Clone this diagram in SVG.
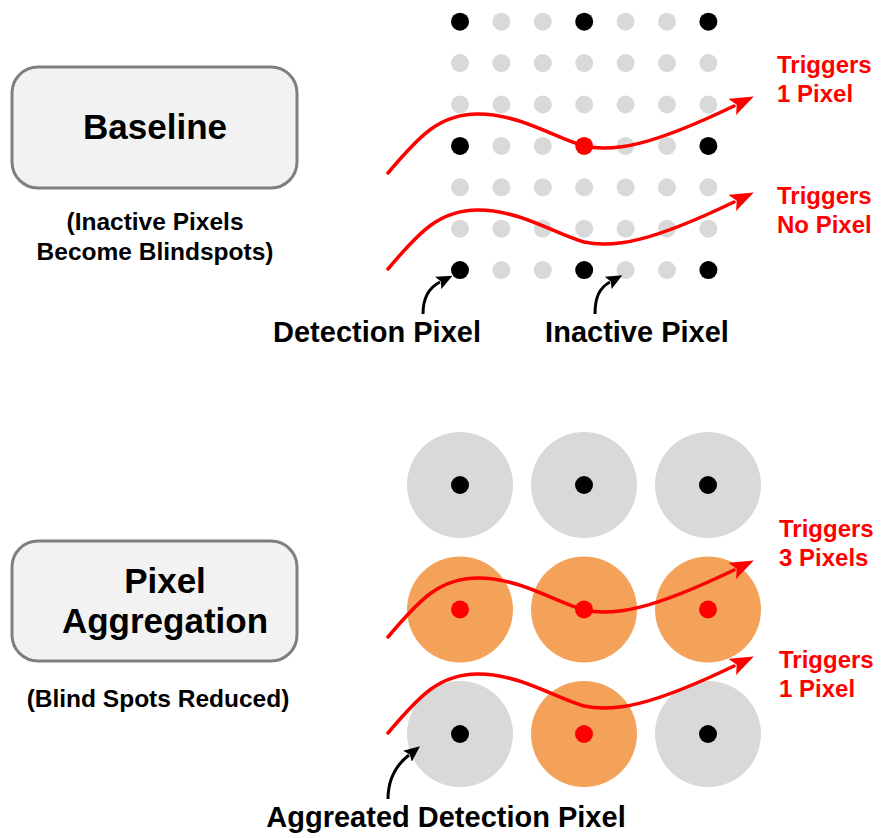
<svg xmlns="http://www.w3.org/2000/svg" width="882" height="838" viewBox="0 0 882 838">
<style>
text{font-family:"Liberation Sans",Arial,Helvetica,sans-serif;font-weight:bold}
.title{font-size:35px;fill:#000;text-anchor:middle}
.sub{font-size:24.5px;fill:#000;text-anchor:middle}
.lbl{font-size:29px;fill:#000;text-anchor:middle}
.red{font-size:24px;fill:#ff0000}
.box{fill:#f2f2f2;stroke:#7f7f7f;stroke-width:3}
.g{fill:#d9d9d9}
.b{fill:#000}
.r{fill:#ff0000}
.big{fill:#d9d9d9}
.or{fill:#f4a259}
.ray{fill:none;stroke:#ff0000;stroke-width:3.5;stroke-linecap:round;marker-end:url(#ah)}
.pt{fill:none;stroke:#000;stroke-width:3;marker-end:url(#bh)}
</style>
<defs>
<marker id="ah" markerUnits="userSpaceOnUse" viewBox="0 0 24 18" refX="2" refY="9" markerWidth="24" markerHeight="18" orient="auto">
<path d="M0,0 L24,9 L0,18 L5,9 Z" fill="#ff0000"/>
</marker>
<marker id="bh" markerUnits="userSpaceOnUse" viewBox="0 0 16 14" refX="2" refY="7" markerWidth="16" markerHeight="14" orient="auto">
<path d="M0,0 L16,7 L0,14 L3,7 Z" fill="#000"/>
</marker>
<path id="wave" d="M388,173 C420,135 440,114 478,114 C520,114 555,138 584,146 C615,153 655,144 734,106"/>
</defs>

<g id="baseline-box">
<rect class="box" x="12" y="67" width="285" height="121" rx="26"/>
<text class="title" x="155" y="139">Baseline</text>
</g>
<g id="baseline-sub">
<text class="sub" x="155" y="230">(Inactive Pixels</text>
<text class="sub" x="155" y="260">Become Blindspots)</text>
</g>

<g id="baseline-grid">
<circle class="b" cx="460" cy="21.7" r="9"/><circle class="g" cx="501.4" cy="21.7" r="9"/><circle class="g" cx="542.8" cy="21.7" r="9"/><circle class="b" cx="584.2" cy="21.7" r="9"/><circle class="g" cx="625.6" cy="21.7" r="9"/><circle class="g" cx="667" cy="21.7" r="9"/><circle class="b" cx="708.4" cy="21.7" r="9"/>
<circle class="g" cx="460" cy="63.1" r="9"/><circle class="g" cx="501.4" cy="63.1" r="9"/><circle class="g" cx="542.8" cy="63.1" r="9"/><circle class="g" cx="584.2" cy="63.1" r="9"/><circle class="g" cx="625.6" cy="63.1" r="9"/><circle class="g" cx="667" cy="63.1" r="9"/><circle class="g" cx="708.4" cy="63.1" r="9"/>
<circle class="g" cx="460" cy="104.5" r="9"/><circle class="g" cx="501.4" cy="104.5" r="9"/><circle class="g" cx="542.8" cy="104.5" r="9"/><circle class="g" cx="584.2" cy="104.5" r="9"/><circle class="g" cx="625.6" cy="104.5" r="9"/><circle class="g" cx="667" cy="104.5" r="9"/><circle class="g" cx="708.4" cy="104.5" r="9"/>
<circle class="b" cx="460" cy="145.9" r="9"/><circle class="g" cx="501.4" cy="145.9" r="9"/><circle class="g" cx="542.8" cy="145.9" r="9"/><circle class="r" cx="584.2" cy="145.9" r="9"/><circle class="g" cx="625.6" cy="145.9" r="9"/><circle class="g" cx="667" cy="145.9" r="9"/><circle class="b" cx="708.4" cy="145.9" r="9"/>
<circle class="g" cx="460" cy="187.3" r="9"/><circle class="g" cx="501.4" cy="187.3" r="9"/><circle class="g" cx="542.8" cy="187.3" r="9"/><circle class="g" cx="584.2" cy="187.3" r="9"/><circle class="g" cx="625.6" cy="187.3" r="9"/><circle class="g" cx="667" cy="187.3" r="9"/><circle class="g" cx="708.4" cy="187.3" r="9"/>
<circle class="g" cx="460" cy="228.7" r="9"/><circle class="g" cx="501.4" cy="228.7" r="9"/><circle class="g" cx="542.8" cy="228.7" r="9"/><circle class="g" cx="584.2" cy="228.7" r="9"/><circle class="g" cx="625.6" cy="228.7" r="9"/><circle class="g" cx="667" cy="228.7" r="9"/><circle class="g" cx="708.4" cy="228.7" r="9"/>
<circle class="b" cx="460" cy="270.1" r="9"/><circle class="g" cx="501.4" cy="270.1" r="9"/><circle class="g" cx="542.8" cy="270.1" r="9"/><circle class="b" cx="584.2" cy="270.1" r="9"/><circle class="g" cx="625.6" cy="270.1" r="9"/><circle class="g" cx="667" cy="270.1" r="9"/><circle class="b" cx="708.4" cy="270.1" r="9"/>
</g>

<g id="agg-box">
<rect class="box" x="12" y="541" width="285" height="120" rx="26"/>
<text class="title" x="165" y="593">Pixel</text>
<text class="title" x="165" y="633">Aggregation</text>
</g>
<g id="agg-sub">
<text class="sub" x="158" y="707">(Blind Spots Reduced)</text>
</g>

<g id="agg-grid">
<circle class="big" cx="460" cy="485" r="53"/><circle class="b" cx="460" cy="485" r="9"/>
<circle class="big" cx="584" cy="485" r="53"/><circle class="b" cx="584" cy="485" r="9"/>
<circle class="big" cx="708" cy="485" r="53"/><circle class="b" cx="708" cy="485" r="9"/>
<circle class="or" cx="460" cy="609.5" r="53"/><circle class="r" cx="460" cy="609.5" r="9"/>
<circle class="or" cx="584" cy="609.5" r="53"/><circle class="r" cx="584" cy="609.5" r="9"/>
<circle class="or" cx="708" cy="609.5" r="53"/><circle class="r" cx="708" cy="609.5" r="9"/>
<circle class="big" cx="460" cy="734" r="53"/><circle class="b" cx="460" cy="734" r="9"/>
<circle class="or" cx="584" cy="734" r="53"/><circle class="r" cx="584" cy="734" r="9"/>
<circle class="big" cx="708" cy="734" r="53"/><circle class="b" cx="708" cy="734" r="9"/>
</g>

<g id="connectors">
<use href="#wave" class="ray"/>
<use href="#wave" class="ray" transform="translate(0,96)"/>
<use href="#wave" class="ray" transform="translate(0,464)"/>
<use href="#wave" class="ray" transform="translate(0,560)"/>
<path class="pt" d="M423,314 C423,298 428,288 440,282"/>
<path class="pt" d="M595,314 C595,298 599,288 610,282"/>
<path class="pt" d="M388,799 C388,780 395,766 409,755"/>
</g>

<g id="labels">
<text class="red" x="777" y="73">Triggers</text>
<text class="red" x="777" y="102">1 Pixel</text>
<text class="red" x="777" y="204">Triggers</text>
<text class="red" x="777" y="233">No Pixel</text>
<text class="red" x="779" y="537">Triggers</text>
<text class="red" x="779" y="566">3 Pixels</text>
<text class="red" x="779" y="668">Triggers</text>
<text class="red" x="779" y="697">1 Pixel</text>
<text class="lbl" x="377" y="342">Detection Pixel</text>
<text class="lbl" x="637" y="342">Inactive Pixel</text>
<text class="lbl" x="446" y="827">Aggreated Detection Pixel</text>
</g>
</svg>
